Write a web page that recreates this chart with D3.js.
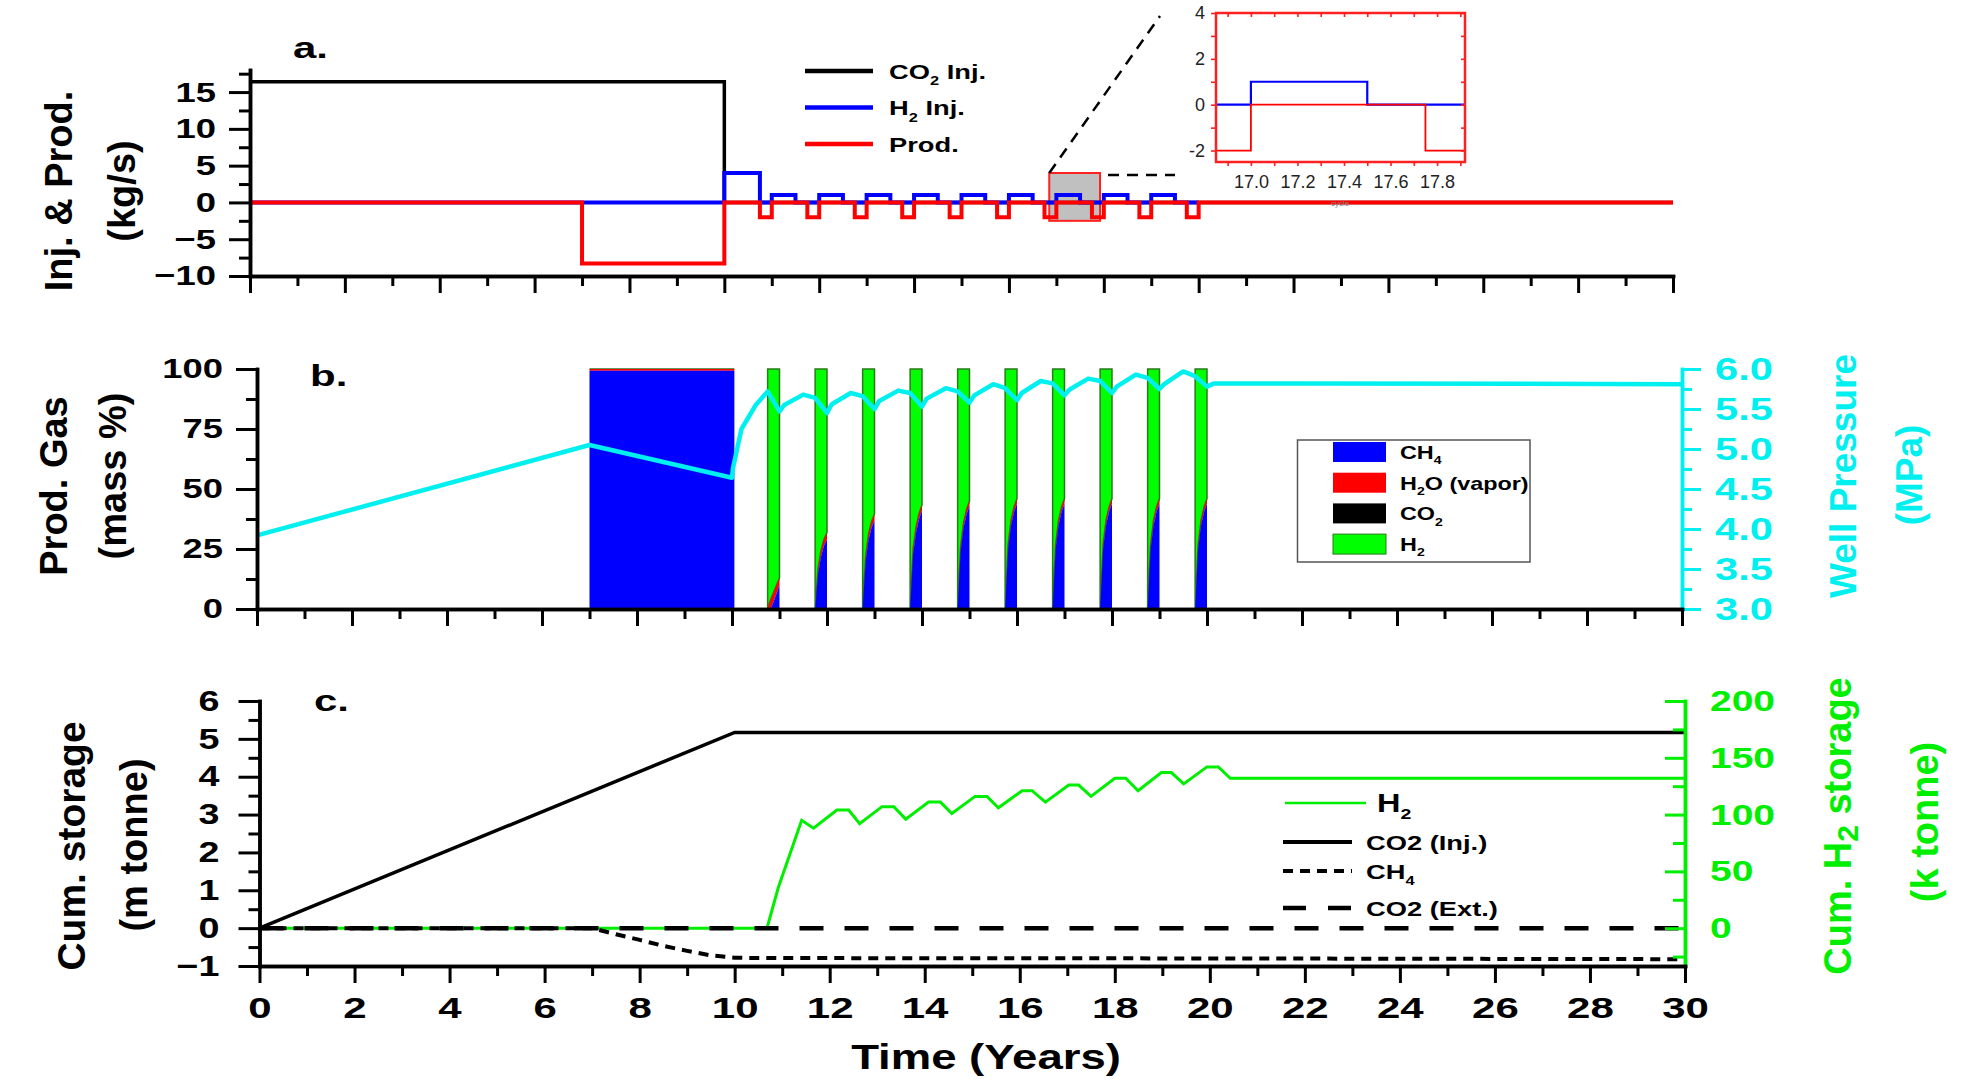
<!DOCTYPE html>
<html>
<head>
<meta charset="utf-8">
<script src="https://cdn.jsdelivr.net/npm/d3@7"></script>
<style>
  body { margin: 0; background: #fff; }
  svg { font-family: "Liberation Sans", Arial, sans-serif; font-weight: bold; }
</style>
</head>
<body>
<svg id="chart" width="1985" height="1083"></svg>
<script>
// ---------- DATA ----------
var yearMajor = [0,2,4,6,8,10,12,14,16,18,20,22,24,26,28,30];
var yearMinor = [1,3,5,7,9,11,13,15,17,19,21,23,25,27,29];

// a. injection & production rates (kg/s), step change points
var co2Inj = [[0,16.4],[10,0],[30,0]];
var h2Inj = [[0,0],[10,4],[10.75,0],[11,1],[11.5,0],[12,1],[12.5,0],[13,1],[13.5,0],[14,1],[14.5,0],
  [15,1],[15.5,0],[16,1],[16.5,0],[17,1],[17.5,0],[18,1],[18.5,0],[19,1],[19.5,0],[20,0]];
var prodRate = [[0,0],[7,-8.3],[10,0],[10.75,-2],[11,0],[11.75,-2],[12,0],[12.75,-2],[13,0],[13.75,-2],[14,0],
  [14.75,-2],[15,0],[15.75,-2],[16,0],[16.75,-2],[17,0],[17.75,-2],[18,0],[18.75,-2],[19,0],[19.75,-2],[20,0],[30,0]];
var rateMajor = [-10,-5,0,5,10,15];
var rateMinor = [-7.5,-2.5,2.5,7.5,12.5,17.5];
var zoomX = [16.85, 17.92];   // inset window
var zoomY = [-2.5, 4];

// b. produced gas composition (mass %) during production windows
var prodWindows = [[7,10.05],[10.75,11],[11.75,12],[12.75,13],[13.75,14],[14.75,15],[15.75,16],[16.75,17],[17.75,18],[18.75,19],[19.75,20]];
var windowFrac = [0, 0.25, 0.5, 0.75, 1];
var ch4Pct = [
  [99.3,99.3,99.3,99.3,99.3],
  [0,0,3,6.5,10],
  [0,15,22,26.5,29],
  [0,20,29,34,37],
  [0,23,32,37.5,41],
  [0,24,34,39.5,43],
  [0,25,35,40.5,44],
  [0,25,35,40.5,44],
  [0,25,35,40.5,44],
  [0,25,35,40.5,44],
  [0,25,35,40.5,44]
];
var h2oPct = [
  [0.7,0.7,0.7,0.7,0.7],
  [0,4,4,3.5,3],
  [0,2,2.5,2.7,2.8],
  [0,2,2.4,2.5,2.6],
  [0,2,2.2,2.3,2.4],
  [0,1.8,2,2,2],
  [0,1.8,2,2,2],
  [0,1.8,2,2,2],
  [0,1.8,2,2,2],
  [0,1.8,2,2,2],
  [0,1.8,2,2,2]
];
var gasKeys = ["ch4","h2o","co2","h2"];
var gasColors = {ch4:"#0000ff", h2o:"#ff0000", co2:"#000000", h2:"#00ff00"};
var gasLabels = [["CH","4"," "],["H","2","O (vapor)"],["CO","2",""],["H","2",""]];
var pctMajor = [0,25,50,75,100];
var pctMinor = [12.5,37.5,62.5,87.5];

// well pressure (MPa)
var wellPressure = [[0,3.92],[7,5.05],[10,4.64],[10.02,4.76],[10.2,5.25],[10.5,5.55],[10.75,5.72],[11,5.47],
  [11.1,5.55],[11.5,5.68],[11.75,5.64],[12,5.45],
  [12.1,5.56],[12.5,5.70],[12.75,5.66],[13,5.50],
  [13.1,5.60],[13.5,5.73],[13.75,5.70],[14,5.53],
  [14.1,5.63],[14.5,5.76],[14.75,5.72],[15,5.58],
  [15.1,5.67],[15.5,5.81],[15.75,5.76],[16,5.61],
  [16.1,5.70],[16.5,5.85],[16.75,5.82],[17,5.67],
  [17.1,5.74],[17.5,5.88],[17.75,5.85],[18,5.70],
  [18.1,5.78],[18.5,5.93],[18.75,5.89],[19,5.75],
  [19.1,5.81],[19.5,5.97],[19.75,5.91],[20,5.78],
  [20.15,5.82],[22,5.82],[30,5.81]];
var mpaMajor = [3,3.5,4,4.5,5,5.5,6];
var mpaMinor = [3.25,3.75,4.25,4.75,5.25,5.75];

// c. cumulative storage
var co2Stored = [[0,0],[10,5.17],[30,5.17]];                 // m tonne
var ch4Stored = [[0,0],[7,0],[7.5,-0.16],[8,-0.31],[8.5,-0.47],[9,-0.6],[9.5,-0.72],[10,-0.78],[10.5,-0.79],[20,-0.8],[30,-0.82]];
var co2Ext = [[0,0],[30,0]];
var h2Stored = [[0,0],[10.68,0],[10.92,36],[11.41,95],[11.66,88],[12.15,104],[12.4,104],[12.63,92],
  [13.1,107],[13.35,107],[13.6,96],[14.08,111],[14.33,111],[14.57,101],[15.06,116],[15.31,116],[15.55,106],
  [16.05,121],[16.26,121],[16.54,111],[17.03,126],[17.24,126],[17.5,116],[18,132],[18.23,132],[18.49,121],
  [18.98,137],[19.19,137],[19.45,127],[19.94,142],[20.18,142],[20.43,132],[30,132]];   // k tonne
var mtMajor = [-1,0,1,2,3,4,5,6];
var mtMinor = [-0.5,0.5,1.5,2.5,3.5,4.5,5.5];
var ktMajor = [0,50,100,150,200];
var ktMinor = [-25,25,75,125,175];

// ---------- DRAWING ----------
var svg = d3.select("#chart");
var CYAN = "#00f0f0", GREEN = "#00ee00";

function stretch(sel, origin, k) {
  sel.style("transform", "scaleX(" + (k || 1.3) + ")")
    .style("transform-box", "fill-box")
    .style("transform-origin", origin);
}

// major + minor ticks on one axis
function axisPair(parent, maker, scale, major, minor, bigLen, smallLen, pad, fmt, color) {
  var g = parent.append("g").attr("color", color || "#000");
  g.append("g").call(maker(scale).tickValues(minor).tickSize(smallLen).tickSizeOuter(0).tickFormat(function() { return ""; }));
  var m = g.append("g").call(maker(scale).tickValues(major).tickSize(bigLen).tickSizeOuter(0).tickPadding(pad)
    .tickFormat(fmt || function() { return ""; }));
  g.selectAll("line").attr("stroke-width", 3);
  g.selectAll("path.domain").attr("stroke-width", 3.5).attr("stroke-linecap", "square");
  m.attr("font-family", null).attr("font-weight", "bold");
  return m;
}

function rotTitle(cx, cy, parts, size, color) {
  var t = svg.append("text")
    .attr("transform", "translate(" + cx + "," + cy + ") rotate(-90)")
    .attr("text-anchor", "middle").attr("dy", "0.35em")
    .attr("font-size", size).attr("fill", color || "#000");
  parts.forEach(function(p) {
    var s = t.append("tspan").text(p[0]);
    if (p[1]) s.attr("font-size", p[1]).attr("dy", p[2]);
  });
  return t;
}

function subText(parent, x, y, main, sub, rest, size, color) {
  var t = parent.append("text").attr("x", x).attr("y", y).attr("font-size", size).attr("fill", color || "#000");
  t.append("tspan").text(main);
  t.append("tspan").text(sub).attr("font-size", size * 0.6).attr("dy", size * 0.3);
  if (rest) t.append("tspan").text(rest).attr("dy", -size * 0.3);
  stretch(t, "left center", 1.3);
  return t;
}

// ======== panel a ========
var xa = d3.scaleLinear().domain([0,30]).range([250,1673]);
var ya = d3.scaleLinear().domain([-10,18]).range([276,70]);
var pa = svg.append("g");
var stepA = d3.line().x(function(d) { return xa(d[0]); }).y(function(d) { return ya(d[1]); }).curve(d3.curveStepAfter);

// highlighted window
pa.append("rect")
  .attr("x", xa(zoomX[0])).attr("y", ya(zoomY[1]))
  .attr("width", xa(zoomX[1]) - xa(zoomX[0])).attr("height", ya(zoomY[0]) - ya(zoomY[1]))
  .attr("fill", "#c0c0c0").attr("stroke", "#ff2020").attr("stroke-width", 2);

pa.append("path").attr("d", stepA(co2Inj)).attr("fill", "none").attr("stroke", "#000").attr("stroke-width", 3.5);
pa.append("path").attr("d", stepA(h2Inj)).attr("fill", "none").attr("stroke", "#0000ff").attr("stroke-width", 4);
pa.append("path").attr("d", stepA(prodRate)).attr("fill", "none").attr("stroke", "#ff0000").attr("stroke-width", 4);

axisPair(pa.append("g").attr("transform", "translate(" + xa(0) + ",0)"), d3.axisLeft, ya, rateMajor, rateMinor, 21, 11, 13, d3.format("d"))
  .attr("font-size", 28).selectAll("text").call(stretch, "right center");
axisPair(pa.append("g").attr("transform", "translate(0," + ya(-10) + ")"), d3.axisBottom, xa, yearMajor, yearMinor, 17, 10, 0);

// connector dashes
pa.append("line").attr("x1", xa(zoomX[0])).attr("y1", ya(zoomY[1]))
  .attr("x2", 1160).attr("y2", 16).attr("stroke", "#000").attr("stroke-width", 2.5).attr("stroke-dasharray", "11,8");
pa.append("line").attr("x1", xa(zoomX[1]) + 8).attr("y1", ya(zoomY[1]) + 2)
  .attr("x2", 1175).attr("y2", ya(zoomY[1]) + 2).attr("stroke", "#000").attr("stroke-width", 2.5).attr("stroke-dasharray", "11,8");

// legend a
var legA = [["CO","2"," Inj.","#000"],["H","2"," Inj.","#0000ff"],["Prod.","","","#ff0000"]];
legA.forEach(function(d, i) {
  var yy = 71 + i * 36.5;
  pa.append("line").attr("x1", 805).attr("x2", 873).attr("y1", yy).attr("y2", yy).attr("stroke", d[3]).attr("stroke-width", 4.5);
  subText(pa, 889, yy + 8, d[0], d[1], d[2], 21);
});

svg.append("text").attr("x", 293).attr("y", 58).attr("font-size", 30).text("a.").call(stretch, "left center", 1.4);

// inset
var xi = d3.scaleLinear().domain(zoomX).range([1216,1465]);
var yi = d3.scaleLinear().domain(zoomY).range([162,13]);
var ins = svg.append("g");
ins.append("clipPath").attr("id", "insclip").append("rect")
  .attr("x", xi.range()[0]).attr("y", yi.range()[1]).attr("width", xi.range()[1] - xi.range()[0]).attr("height", yi.range()[0] - yi.range()[1]);
var stepI = d3.line().x(function(d) { return xi(d[0]); }).y(function(d) { return yi(d[1]); }).curve(d3.curveStepAfter);
var insData = ins.append("g").attr("clip-path", "url(#insclip)");
insData.append("path").attr("d", stepI(h2Inj)).attr("fill", "none").attr("stroke", "#0000ff").attr("stroke-width", 2.2);
insData.append("path").attr("d", stepI(prodRate)).attr("fill", "none").attr("stroke", "#ff0000").attr("stroke-width", 1.8);
ins.append("rect").attr("x", xi.range()[0]).attr("y", yi.range()[1])
  .attr("width", xi.range()[1] - xi.range()[0]).attr("height", yi.range()[0] - yi.range()[1])
  .attr("fill", "none").attr("stroke", "#ff2020").attr("stroke-width", 2.5);
var insXTicks = [16.9,17.0,17.1,17.2,17.3,17.4,17.5,17.6,17.7,17.8,17.9];
var insXLabels = [17.0,17.2,17.4,17.6,17.8];
function insAxis(g) {
  g.selectAll("line").attr("stroke", "#ff2020").attr("stroke-width", 1.6);
  g.selectAll("path.domain").remove();
  g.attr("font-family", null).attr("font-weight", "normal").attr("font-size", 18);
  g.selectAll("text").attr("fill", "#222");
}
ins.append("g").attr("transform", "translate(0," + yi.range()[0] + ")")
  .call(d3.axisBottom(xi).tickValues(insXTicks).tickSize(4).tickSizeOuter(0).tickPadding(9)
    .tickFormat(function(d) { return insXLabels.indexOf(d) >= 0 ? d3.format(".1f")(d) : ""; })).call(insAxis);
ins.append("g").attr("transform", "translate(0," + yi.range()[1] + ")")
  .call(d3.axisBottom(xi).tickValues(insXTicks).tickSize(4).tickSizeOuter(0).tickFormat(function() { return ""; })).call(insAxis);
ins.append("g").attr("transform", "translate(" + xi.range()[0] + ",0)")
  .call(d3.axisLeft(yi).tickValues([-2,-1,0,1,2,3,4]).tickSize(5).tickSizeOuter(0).tickPadding(6)
    .tickFormat(function(d) { return d % 2 === 0 ? d : ""; })).call(insAxis);
ins.append("g").attr("transform", "translate(" + xi.range()[1] + ",0)")
  .call(d3.axisLeft(yi).tickValues([-2,-1,0,1,2,3,4]).tickSize(4).tickSizeOuter(0).tickFormat(function() { return ""; })).call(insAxis);
ins.append("text").attr("x", 1340).attr("y", 206).attr("font-size", 8).attr("font-weight", "normal")
  .attr("fill", "#888").attr("text-anchor", "middle").text("cycle");

rotTitle(59, 191, [["Inj. & Prod."]], 38);
rotTitle(122, 191, [["(kg/s)"]], 38);

// ======== panel b ========
var xb = d3.scaleLinear().domain([0,30]).range([257,1682]);
var yb = d3.scaleLinear().domain([0,100]).range([609,369]);
var yb2 = d3.scaleLinear().domain([3,6]).range([609,369]);
var pb = svg.append("g");

var stack = d3.stack().keys(gasKeys);
var areaB = d3.area().x(function(d) { return xb(d.data.t); })
  .y0(function(d) { return yb(d[0]); }).y1(function(d) { return yb(d[1]); });
prodWindows.forEach(function(w, wi) {
  var rows = windowFrac.map(function(f, k) {
    var c = ch4Pct[wi][k], h = h2oPct[wi][k];
    return { t: w[0] + f * (w[1] - w[0]), ch4: c, h2o: h, co2: 0, h2: 100 - c - h };
  });
  var series = stack(rows);
  [3, 2, 1, 0].forEach(function(si) {
    var s = series[si];
    pb.append("path").attr("d", areaB(s)).attr("fill", gasColors[s.key])
      .attr("stroke", s.key === "h2" ? "#2a7a1a" : "none").attr("stroke-width", 1.5);
  });
});

var lineB = d3.line().x(function(d) { return xb(d[0]); }).y(function(d) { return yb2(d[1]); });
pb.append("path").attr("d", lineB(wellPressure)).attr("fill", "none").attr("stroke", CYAN)
  .attr("stroke-width", 4.5).attr("stroke-linejoin", "round");

axisPair(pb.append("g").attr("transform", "translate(" + xb(0) + ",0)"), d3.axisLeft, yb, pctMajor, pctMinor, 21, 11, 13, d3.format("d"))
  .attr("font-size", 28).selectAll("text").call(stretch, "right center");
axisPair(pb.append("g").attr("transform", "translate(" + xb(30) + ",0)"), d3.axisRight, yb2, mpaMajor, mpaMinor, 19, 10, 14, d3.format(".1f"), CYAN)
  .attr("font-size", 32).selectAll("text").call(stretch, "left center", 1.3);
axisPair(pb.append("g").attr("transform", "translate(0," + yb(0) + ")"), d3.axisBottom, xb, yearMajor, yearMinor, 17, 10, 0);

// legend b
var lg = pb.append("g");
lg.append("rect").attr("x", 1297.5).attr("y", 440).attr("width", 232.5).attr("height", 122)
  .attr("fill", "#fff").attr("stroke", "#555").attr("stroke-width", 1.5);
gasKeys.forEach(function(k, i) {
  var yy = 442 + i * 30.7;
  lg.append("rect").attr("x", 1333).attr("y", yy).attr("width", 53).attr("height", 20)
    .attr("fill", gasColors[k]).attr("stroke", k === "h2" ? "#2a7a1a" : "none");
  subText(lg, 1400, yy + 17, gasLabels[i][0], gasLabels[i][1], gasLabels[i][2], 18);
});

svg.append("text").attr("x", 310).attr("y", 386).attr("font-size", 30).text("b.").call(stretch, "left center", 1.4);
rotTitle(54, 486, [["Prod. Gas"]], 38);
rotTitle(113, 476, [["(mass %)"]], 38);
rotTitle(1843, 476, [["Well Pressure"]], 37, CYAN);
rotTitle(1909, 475, [["(MPa)"]], 37, CYAN);

// ======== panel c ========
var xc = d3.scaleLinear().domain([0,30]).range([259.5,1685]);
var yc = d3.scaleLinear().domain([-1,6]).range([966,701]);
var yc2 = d3.scaleLinear().domain([-33.3,200]).range([966,701]);
var pc = svg.append("g");
var lineC = d3.line().x(function(d) { return xc(d[0]); }).y(function(d) { return yc(d[1]); });
var lineC2 = d3.line().x(function(d) { return xc(d[0]); }).y(function(d) { return yc2(d[1]); });

pc.append("path").attr("d", lineC(co2Stored)).attr("fill", "none").attr("stroke", "#000").attr("stroke-width", 3.5);
pc.append("path").attr("d", lineC2(h2Stored)).attr("fill", "none").attr("stroke", GREEN).attr("stroke-width", 3);
pc.append("path").attr("d", lineC(ch4Stored)).attr("fill", "none").attr("stroke", "#000").attr("stroke-width", 4).attr("stroke-dasharray", "10,7");
pc.append("path").attr("d", lineC(co2Ext)).attr("fill", "none").attr("stroke", "#000").attr("stroke-width", 4.5).attr("stroke-dasharray", "24,21");

axisPair(pc.append("g").attr("transform", "translate(" + xc(0) + ",0)"), d3.axisLeft, yc, mtMajor, mtMinor, 21, 11, 19, d3.format("d"))
  .attr("font-size", 29).selectAll("text").call(stretch, "right center");
axisPair(pc.append("g").attr("transform", "translate(" + xc(30) + ",0)"), d3.axisRight, yc2, ktMajor, ktMinor, -20, -12, 25, d3.format("d"), GREEN)
  .attr("font-size", 30).selectAll("text").call(stretch, "left center", 1.3);
axisPair(pc.append("g").attr("transform", "translate(0," + yc(-1) + ")"), d3.axisBottom, xc, yearMajor, yearMinor, 17, 10, 14, d3.format("d"))
  .attr("font-size", 30).selectAll("text").call(stretch, "center", 1.4);

// legend c
var legC = [
  {t: ["H","2",""], y: 803, x1: 1285, x2: 1366, lx: 1377, size: 25, color: GREEN, w: 2.5, dash: null},
  {t: ["CO2 (Inj.)","",""], y: 842, x1: 1283, x2: 1352, lx: 1366, size: 21, color: "#000", w: 4, dash: null},
  {t: ["CH","4",""], y: 871, x1: 1283, x2: 1352, lx: 1366, size: 21, color: "#000", w: 4, dash: "10,7"},
  {t: ["CO2 (Ext.)","",""], y: 908, x1: 1283, x2: 1352, lx: 1366, size: 21, color: "#000", w: 4.5, dash: "23,22"}
];
legC.forEach(function(d) {
  pc.append("line").attr("x1", d.x1).attr("x2", d.x2).attr("y1", d.y).attr("y2", d.y)
    .attr("stroke", d.color).attr("stroke-width", d.w).attr("stroke-dasharray", d.dash);
  subText(pc, d.lx, d.y + d.size * 0.36, d.t[0], d.t[1], d.t[2], d.size);
});

svg.append("text").attr("x", 314).attr("y", 711).attr("font-size", 30).text("c.").call(stretch, "left center", 1.4);
rotTitle(71, 846, [["Cum. storage"]], 39);
rotTitle(134, 845, [["(m tonne)"]], 38);
rotTitle(1838, 826, [["Cum. H"], ["2", 30, 7], [" storage", 38, -7]], 38, GREEN);
rotTitle(1925, 822, [["(k tonne)"]], 38, GREEN);

svg.append("text").attr("x", 986).attr("y", 1069).attr("font-size", 35).attr("text-anchor", "middle")
  .text("Time (Years)").call(stretch, "center", 1.3);
</script>
</body>
</html>
